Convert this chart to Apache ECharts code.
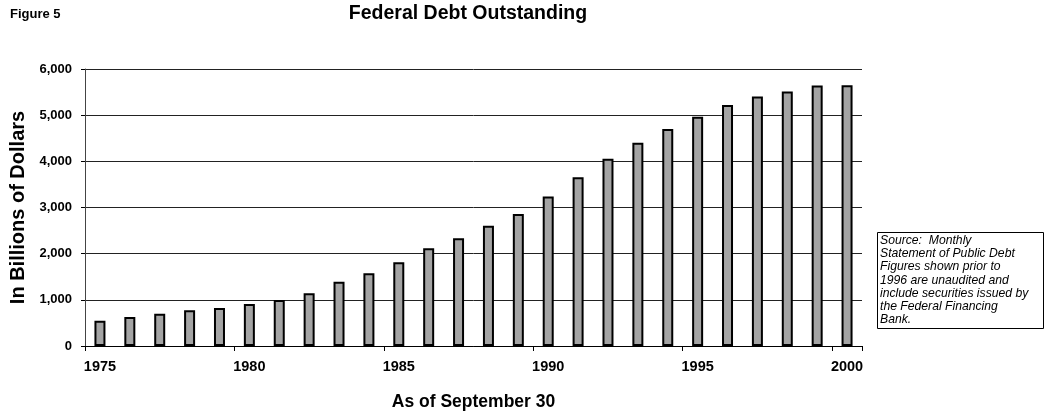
<!DOCTYPE html>
<html>
<head>
<meta charset="utf-8">
<script src="https://cdn.jsdelivr.net/npm/echarts@6/dist/echarts.min.js"></script>
<style>
html,body{margin:0;padding:0;background:#fff;}
#chart{width:1045px;height:420px;}
</style>
</head>
<body>
<div id="chart"></div>
<script>
const years = ['1975','1976','1977','1978','1979','1980','1981','1982','1983','1984','1985','1986','1987','1988','1989','1990','1991','1992','1993','1994','1995','1996','1997','1998','1999','2000'];
const debt = [545, 630, 700, 772, 825, 908, 998, 1145, 1390, 1575, 1815, 2115, 2335, 2605, 2860, 3240, 3655, 4055, 4405, 4700, 4965, 5220, 5405, 5515, 5645, 5650];
const yTicks = [0, 1000, 2000, 3000, 4000, 5000, 6000];
const sourceLines = ['Source:  Monthly', 'Statement of Public Debt', 'Figures shown prior to', '1996 are unaudited and', 'include securities issued by', 'the Federal Financing', 'Bank.'];

const chart = echarts.init(document.getElementById('chart'), null, {renderer: 'canvas'});
const font = '"Liberation Sans", Arial, sans-serif';
chart.setOption({
  animation: false,
  backgroundColor: '#fff',
  textStyle: {fontFamily: font},
  grid: {left: 82, right: 183, top: 69, bottom: 74, containLabel: false},
  graphic: [
    {type: 'text', left: 10, top: 8, style: {text: 'Figure 5', font: 'bold 13px ' + font, fill: '#000'}},
    {type: 'text', x: 468, y: 14, style: {text: 'Federal Debt Outstanding', font: 'bold 19.5px ' + font, fill: '#000', align: 'center', verticalAlign: 'middle'}},
    {type: 'rect', shape: {x: 877.5, y: 232.5, width: 166, height: 96}, style: {fill: '#fff', stroke: '#000', lineWidth: 1}},
    {type: 'text', x: 880, y: 234, style: {text: sourceLines.join('\n'), font: 'italic 12.2px ' + font, fill: '#000', lineHeight: 13.2, align: 'left', verticalAlign: 'top'}}
  ],
  xAxis: {
    type: 'category',
    data: years,
    boundaryGap: true,
    name: 'As of September 30',
    nameLocation: 'middle',
    nameGap: 47,
    nameTextStyle: {fontSize: 17.5, fontWeight: 'bold', color: '#000', fontFamily: font},
    axisLine: {show: true, lineStyle: {color: '#000', width: 1}},
    axisTick: {show: true, interval: 4, length: 5, alignWithLabel: false, lineStyle: {color: '#000'}},
    axisLabel: {interval: 4, margin: 13, fontSize: 14.5, fontWeight: 'bold', color: '#000', fontFamily: font},
    splitLine: {show: false}
  },
  yAxis: {
    type: 'value',
    min: yTicks[0],
    max: yTicks[yTicks.length - 1],
    interval: 1000,
    name: 'In Billions of Dollars',
    nameLocation: 'middle',
    nameGap: 57,
    nameTextStyle: {fontSize: 20, fontWeight: 'bold', color: '#000', fontFamily: font},
    axisLine: {show: true, lineStyle: {color: '#444', width: 1}},
    axisTick: {show: true, length: 4, lineStyle: {color: '#000'}},
    axisLabel: {margin: 13, fontSize: 13, fontWeight: 'bold', color: '#000', fontFamily: font,
      formatter: v => v.toLocaleString('en-US')},
    splitLine: {show: true, lineStyle: {color: '#222', width: 1}}
  },
  series: [{
    type: 'bar',
    data: debt,
    barWidth: 11,
    itemStyle: {color: '#a4a4a4', borderColor: '#000', borderWidth: 2}
  }]
});
</script>
</body>
</html>
